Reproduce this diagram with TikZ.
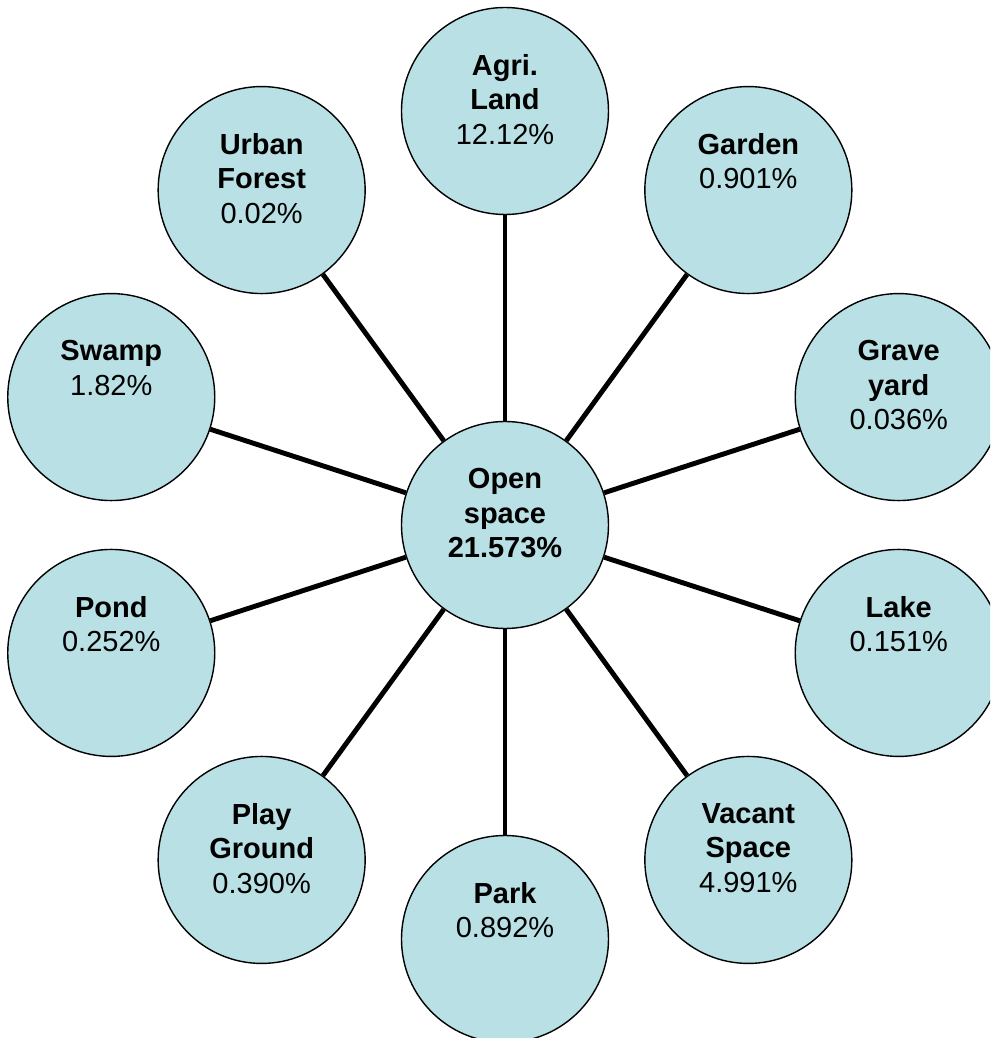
\documentclass[tikz,border=0pt]{standalone}
\usepackage{fontspec}
\setmainfont{Liberation Sans}
\usepackage{tikz}
\usepackage{xcolor}

\definecolor{bubblefill}{RGB}{185,224,228}

\tikzset{
  bubble/.style={circle, draw=black, line width=0.8pt, fill=bubblefill, minimum size=4.14cm, inner sep=0pt},
  bubbletext/.style={anchor=north, align=center, inner sep=0pt, font=\fontsize{16.5}{19.6}\selectfont},
  spoke/.style={line width=2.8pt}
}

\begin{document}
\begin{tikzpicture}
        \useasboundingbox (-10.1,-10.26) rectangle (9.7,10.5);
        \clip (-10.1,-10.26) rectangle (9.7,10.5);
        % hub
        \node[bubble] (os) at (0,0) {};
        \node[bubbletext] (os-t) at ([yshift=1.14cm]os.center) {\textbf{Open}\\\textbf{space}\\\textbf{21.573\%}};
        % ring of land uses, 36 degrees apart
        \foreach \ang / \name / \txt in {90/agri/{\textbf{Agri.}\\\textbf{Land}\\12.12\%},
                                         54/garden/{\textbf{Garden}\\0.901\%},
                                         18/grave/{\textbf{Grave}\\\textbf{yard}\\0.036\%},
                                         -18/lake/{\textbf{Lake}\\0.151\%},
                                         -54/vacant/{\textbf{Vacant}\\\textbf{Space}\\4.991\%},
                                         -90/park/{\textbf{Park}\\0.892\%},
                                         -126/play/{\textbf{Play}\\\textbf{Ground}\\0.390\%},
                                         -162/pond/{\textbf{Pond}\\0.252\%},
                                         162/swamp/{\textbf{Swamp}\\1.82\%},
                                         126/urban/{\textbf{Urban}\\\textbf{Forest}\\0.02\%}} {
            \node[bubble] (\name) at (\ang:8.28cm) {};
            \node[bubbletext] (\name-t) at ([yshift=1.14cm]\name.center) {\txt};
            \draw[spoke] (os) -- (\name);
        };
\end{tikzpicture}
\end{document}
